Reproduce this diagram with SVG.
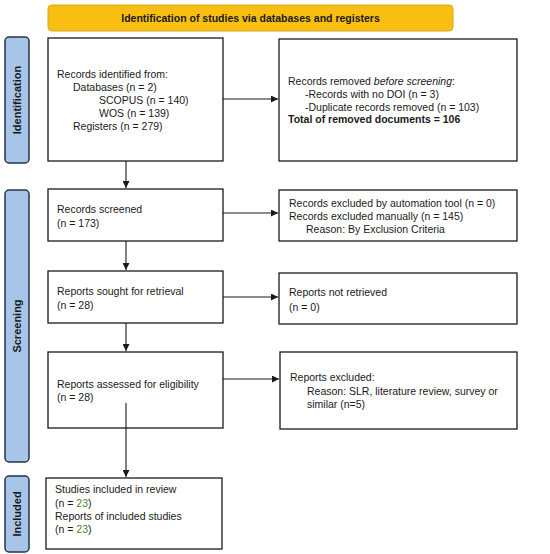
<svg xmlns="http://www.w3.org/2000/svg" width="550" height="554" viewBox="0 0 550 554">
<style>
text{font-family:"Liberation Sans",Arial,sans-serif;font-size:10.5px;fill:#1a1a1a}
.box{fill:#fff;stroke:#1a1a1a;stroke-width:1.3}
.side{fill:#a7c5e9;stroke:#26334d;stroke-width:1.5}
.sidet{font-weight:bold;font-size:11px;text-anchor:middle}
.hdr{fill:#f9bf10;stroke:#d9a520;stroke-width:1}
.b{font-weight:bold}
.g{fill:#4b8a2b}
.con{stroke:#1a1a1a;stroke-width:1.1;fill:none;marker-end:url(#ah)}
</style>
<defs>
<marker id="ah" viewBox="0 0 10 10" refX="10" refY="5" markerWidth="7" markerHeight="7" markerUnits="userSpaceOnUse" orient="auto">
<path d="M0,0 L10,5 L0,10 z" fill="#1a1a1a"/>
</marker>
</defs>
<rect width="550" height="554" fill="#fff"/>

<g id="header">
<rect class="hdr" x="48" y="5" width="405" height="26" rx="4"/>
<text class="b" x="250.5" y="22" text-anchor="middle">Identification of studies via databases and registers</text>
</g>

<g id="side-identification">
<rect class="side" x="5" y="37" width="24" height="126" rx="4"/>
<text class="sidet" transform="translate(21,100) rotate(-90)">Identification</text>
</g>
<g id="side-screening">
<rect class="side" x="5" y="190" width="24" height="272" rx="4"/>
<text class="sidet" transform="translate(21,326) rotate(-90)">Screening</text>
</g>
<g id="side-included">
<rect class="side" x="5" y="476" width="24" height="76" rx="4"/>
<text class="sidet" transform="translate(21,514) rotate(-90)">Included</text>
</g>

<g id="n-identified">
<rect class="box" x="48" y="38" width="175" height="123"/>
<text x="57" y="78">Records identified from:</text>
<text x="73" y="91">Databases (n = 2)</text>
<text x="99" y="104">SCOPUS (n = 140)</text>
<text x="99" y="117">WOS (n = 139)</text>
<text x="73" y="130">Registers (n = 279)</text>
</g>

<g id="n-removed">
<rect class="box" x="279" y="39" width="238" height="122"/>
<text x="288" y="85">Records removed <tspan font-style="italic">before screening</tspan>:</text>
<text x="305" y="98">-Records with no DOI (n = 3)</text>
<text x="305" y="111">-Duplicate records removed  (n = 103)</text>
<text class="b" x="288" y="123">Total of removed documents = 106</text>
</g>

<g id="n-screened">
<rect class="box" x="48" y="189" width="175" height="52"/>
<text x="57" y="213">Records screened</text>
<text x="57" y="227">(n = 173)</text>
</g>

<g id="n-excluded">
<rect class="box" x="279" y="190" width="238" height="51"/>
<text x="289" y="207">Records excluded by automation tool (n = 0)</text>
<text x="289" y="220">Records excluded manually (n = 145)</text>
<text x="306" y="233">Reason:  By Exclusion Criteria</text>
</g>

<g id="n-sought">
<rect class="box" x="48" y="271" width="175" height="52"/>
<text x="57" y="295">Reports sought for retrieval</text>
<text x="57" y="309">(n = 28)</text>
</g>

<g id="n-notretrieved">
<rect class="box" x="279" y="273" width="238" height="51"/>
<text x="289" y="296">Reports not retrieved</text>
<text x="289" y="311">(n = 0)</text>
</g>

<g id="n-assessed">
<rect class="box" x="48" y="352" width="175" height="76"/>
<text x="57" y="388">Reports assessed for eligibility</text>
<text x="57" y="401">(n = 28)</text>
</g>

<g id="n-reportsexcluded">
<rect class="box" x="280" y="352" width="237" height="77"/>
<text x="290" y="381">Reports excluded:</text>
<text x="307" y="395">Reason:  SLR, literature review, survey or</text>
<text x="307" y="408">similar (n=5)</text>
</g>

<g id="n-included">
<rect class="box" x="46" y="478" width="176" height="71"/>
<text x="55" y="493">Studies included in review</text>
<text x="55" y="507">(n = <tspan class="g">23</tspan>)</text>
<text x="55" y="520">Reports of included studies</text>
<text x="55" y="533">(n = <tspan class="g">23</tspan>)</text>
</g>

<g id="connectors">
<line class="con" x1="223" y1="99" x2="278" y2="99"/>
<line class="con" x1="126" y1="161" x2="126" y2="188"/>
<line class="con" x1="223" y1="213" x2="278" y2="213"/>
<line class="con" x1="126" y1="241" x2="126" y2="270"/>
<line class="con" x1="223" y1="297" x2="278" y2="297"/>
<line class="con" x1="126" y1="323" x2="126" y2="351"/>
<line class="con" x1="223" y1="379" x2="279" y2="379"/>
<line class="con" x1="126" y1="403" x2="126" y2="477"/>
</g>
</svg>
